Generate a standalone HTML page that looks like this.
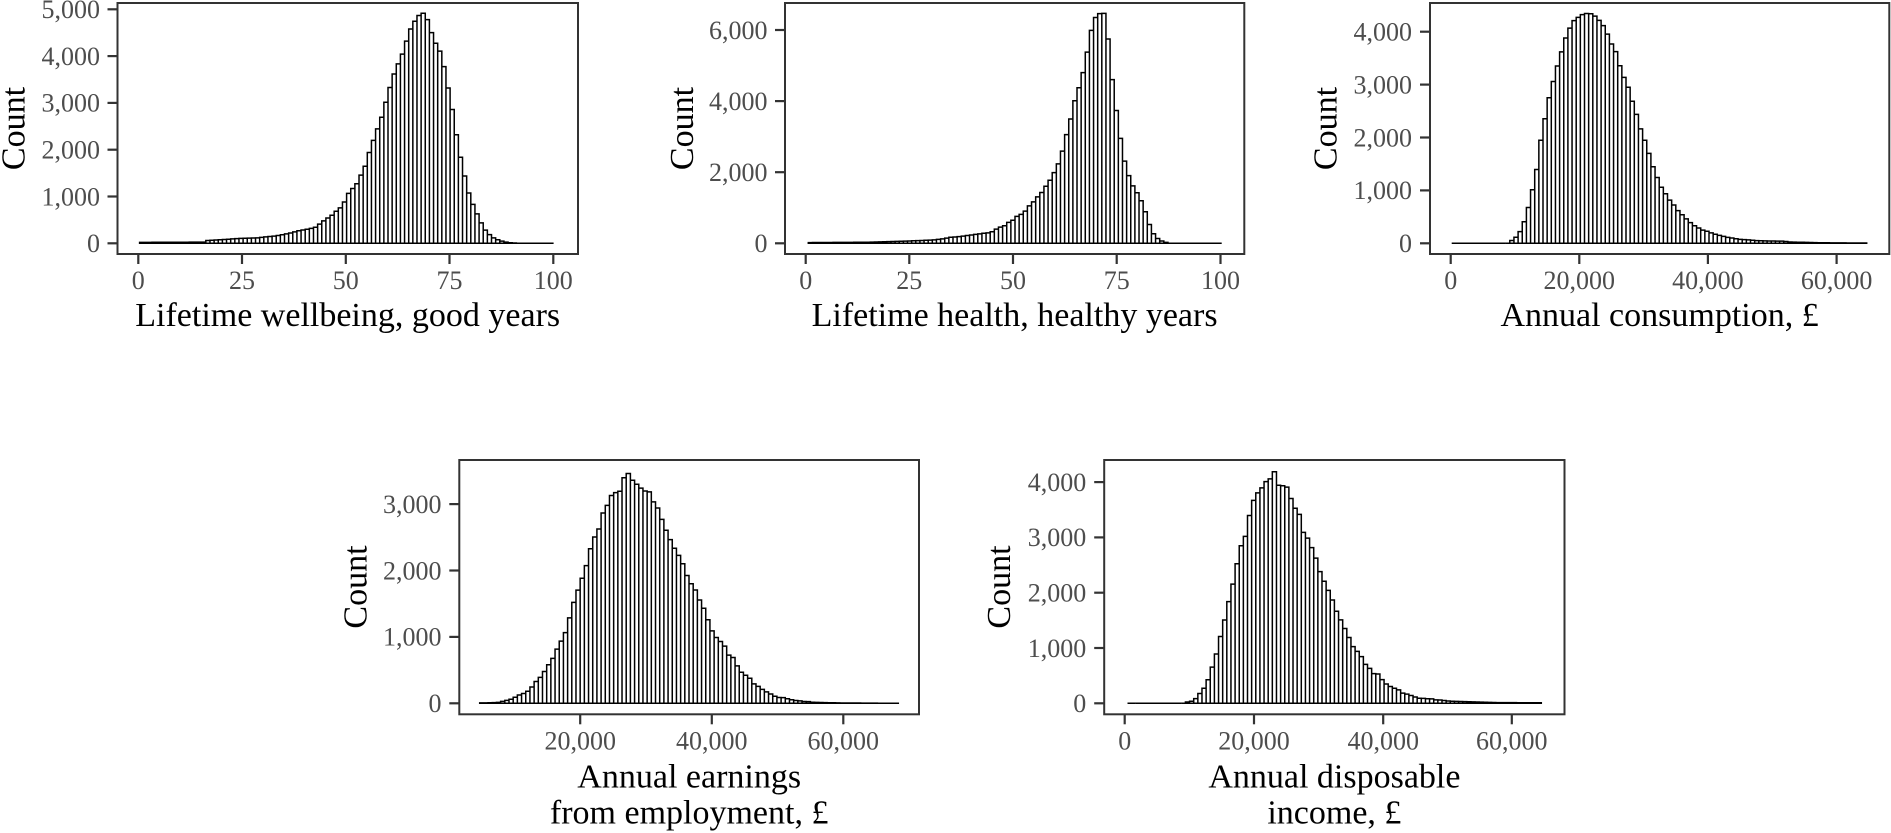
<!DOCTYPE html>
<html>
<head>
<meta charset="utf-8">
<style>
  html,body{margin:0;padding:0;background:#fff;}
  body{width:1891px;height:833px;overflow:hidden;}
  svg{display:block;}
  .tl{font-family:"Liberation Serif","Times New Roman",serif;font-size:26px;fill:#4d4d4d;}
  .at{font-family:"Liberation Serif","Times New Roman",serif;font-size:34px;fill:#000;}
  .fr{fill:none;stroke:#333;stroke-width:2;}
  .tk{stroke:#333;stroke-width:2.2;}
  .bars{fill:#fff;stroke:#000;stroke-width:1.5;stroke-linejoin:miter;}
</style>
</head>
<body>
<svg id="chart" width="1891" height="833" viewBox="0 0 1891 833" xmlns="http://www.w3.org/2000/svg">
  <rect x="0" y="0" width="1891" height="833" fill="#fff"/>

  <g id="b1"></g><g id="b2"></g><g id="b3"></g><g id="b4"></g><g id="b5"></g>

  <!-- ===== Panel 1 ===== -->
  <rect class="fr" x="117.5" y="3" width="460.5" height="251"/>
  <g class="tk">
    <line x1="107.5" y1="243.3" x2="117.5" y2="243.3"/>
    <line x1="107.5" y1="196.5" x2="117.5" y2="196.5"/>
    <line x1="107.5" y1="149.7" x2="117.5" y2="149.7"/>
    <line x1="107.5" y1="102.9" x2="117.5" y2="102.9"/>
    <line x1="107.5" y1="56.1" x2="117.5" y2="56.1"/>
    <line x1="107.5" y1="9.3" x2="117.5" y2="9.3"/>
    <line x1="138.3" y1="254" x2="138.3" y2="264"/>
    <line x1="242" y1="254" x2="242" y2="264"/>
    <line x1="345.8" y1="254" x2="345.8" y2="264"/>
    <line x1="449.5" y1="254" x2="449.5" y2="264"/>
    <line x1="553.3" y1="254" x2="553.3" y2="264"/>
  </g>
  <g class="tl" text-anchor="end">
    <text x="100" y="252.1">0</text>
    <text x="100" y="205.3">1,000</text>
    <text x="100" y="158.5">2,000</text>
    <text x="100" y="111.7">3,000</text>
    <text x="100" y="64.9">4,000</text>
    <text x="100" y="18.1">5,000</text>
  </g>
  <g class="tl" text-anchor="middle">
    <text x="138.3" y="289">0</text>
    <text x="242" y="289">25</text>
    <text x="345.8" y="289">50</text>
    <text x="449.5" y="289">75</text>
    <text x="553.3" y="289">100</text>
  </g>
  <text class="at" text-anchor="middle" x="347.7" y="326">Lifetime wellbeing, good years</text>
  <text class="at" text-anchor="middle" transform="translate(24.5,128.5) rotate(-90)">Count</text>

  <!-- ===== Panel 2 ===== -->
  <rect class="fr" x="785" y="3" width="459.3" height="251"/>
  <g class="tk">
    <line x1="775" y1="243.3" x2="785" y2="243.3"/>
    <line x1="775" y1="172.2" x2="785" y2="172.2"/>
    <line x1="775" y1="101.1" x2="785" y2="101.1"/>
    <line x1="775" y1="30" x2="785" y2="30"/>
    <line x1="805.7" y1="254" x2="805.7" y2="264"/>
    <line x1="909.3" y1="254" x2="909.3" y2="264"/>
    <line x1="1013" y1="254" x2="1013" y2="264"/>
    <line x1="1116.7" y1="254" x2="1116.7" y2="264"/>
    <line x1="1220.5" y1="254" x2="1220.5" y2="264"/>
  </g>
  <g class="tl" text-anchor="end">
    <text x="767.5" y="252.1">0</text>
    <text x="767.5" y="181">2,000</text>
    <text x="767.5" y="109.9">4,000</text>
    <text x="767.5" y="38.8">6,000</text>
  </g>
  <g class="tl" text-anchor="middle">
    <text x="805.7" y="289">0</text>
    <text x="909.3" y="289">25</text>
    <text x="1013" y="289">50</text>
    <text x="1116.7" y="289">75</text>
    <text x="1220.5" y="289">100</text>
  </g>
  <text class="at" text-anchor="middle" x="1014.6" y="326">Lifetime health, healthy years</text>
  <text class="at" text-anchor="middle" transform="translate(693,128.5) rotate(-90)">Count</text>

  <!-- ===== Panel 3 ===== -->
  <rect class="fr" x="1430" y="3" width="459.3" height="251"/>
  <g class="tk">
    <line x1="1420" y1="243.3" x2="1430" y2="243.3"/>
    <line x1="1420" y1="190.4" x2="1430" y2="190.4"/>
    <line x1="1420" y1="137.5" x2="1430" y2="137.5"/>
    <line x1="1420" y1="84.6" x2="1430" y2="84.6"/>
    <line x1="1420" y1="31.7" x2="1430" y2="31.7"/>
    <line x1="1450.7" y1="254" x2="1450.7" y2="264"/>
    <line x1="1579.3" y1="254" x2="1579.3" y2="264"/>
    <line x1="1707.9" y1="254" x2="1707.9" y2="264"/>
    <line x1="1836.6" y1="254" x2="1836.6" y2="264"/>
  </g>
  <g class="tl" text-anchor="end">
    <text x="1412" y="252.1">0</text>
    <text x="1412" y="199.2">1,000</text>
    <text x="1412" y="146.3">2,000</text>
    <text x="1412" y="93.4">3,000</text>
    <text x="1412" y="40.5">4,000</text>
  </g>
  <g class="tl" text-anchor="middle">
    <text x="1450.7" y="289">0</text>
    <text x="1579.3" y="289">20,000</text>
    <text x="1707.9" y="289">40,000</text>
    <text x="1836.6" y="289">60,000</text>
  </g>
  <text class="at" text-anchor="middle" x="1659.6" y="326">Annual consumption, £</text>
  <text class="at" text-anchor="middle" transform="translate(1336.5,128.5) rotate(-90)">Count</text>

  <!-- ===== Panel 4 ===== -->
  <rect class="fr" x="459.3" y="460" width="459.7" height="254.3"/>
  <g class="tk">
    <line x1="449.3" y1="703.3" x2="459.3" y2="703.3"/>
    <line x1="449.3" y1="636.9" x2="459.3" y2="636.9"/>
    <line x1="449.3" y1="570.5" x2="459.3" y2="570.5"/>
    <line x1="449.3" y1="504.1" x2="459.3" y2="504.1"/>
    <line x1="580.2" y1="714.3" x2="580.2" y2="724.3"/>
    <line x1="711.8" y1="714.3" x2="711.8" y2="724.3"/>
    <line x1="843.3" y1="714.3" x2="843.3" y2="724.3"/>
  </g>
  <g class="tl" text-anchor="end">
    <text x="441.5" y="712.1">0</text>
    <text x="441.5" y="645.7">1,000</text>
    <text x="441.5" y="579.3">2,000</text>
    <text x="441.5" y="512.9">3,000</text>
  </g>
  <g class="tl" text-anchor="middle">
    <text x="580.2" y="749.5">20,000</text>
    <text x="711.8" y="749.5">40,000</text>
    <text x="843.3" y="749.5">60,000</text>
  </g>
  <text class="at" text-anchor="middle" x="689.2" y="787.5">Annual earnings</text>
  <text class="at" text-anchor="middle" x="689.2" y="823.5">from employment, £</text>
  <text class="at" text-anchor="middle" transform="translate(366.5,587) rotate(-90)">Count</text>

  <!-- ===== Panel 5 ===== -->
  <rect class="fr" x="1104.2" y="460" width="460.3" height="254.3"/>
  <g class="tk">
    <line x1="1094.2" y1="703.3" x2="1104.2" y2="703.3"/>
    <line x1="1094.2" y1="648" x2="1104.2" y2="648"/>
    <line x1="1094.2" y1="592.7" x2="1104.2" y2="592.7"/>
    <line x1="1094.2" y1="537.4" x2="1104.2" y2="537.4"/>
    <line x1="1094.2" y1="482.1" x2="1104.2" y2="482.1"/>
    <line x1="1124.7" y1="714.3" x2="1124.7" y2="724.3"/>
    <line x1="1254" y1="714.3" x2="1254" y2="724.3"/>
    <line x1="1383.2" y1="714.3" x2="1383.2" y2="724.3"/>
    <line x1="1511.8" y1="714.3" x2="1511.8" y2="724.3"/>
  </g>
  <g class="tl" text-anchor="end">
    <text x="1086.2" y="712.1">0</text>
    <text x="1086.2" y="656.8">1,000</text>
    <text x="1086.2" y="601.5">2,000</text>
    <text x="1086.2" y="546.2">3,000</text>
    <text x="1086.2" y="490.9">4,000</text>
  </g>
  <g class="tl" text-anchor="middle">
    <text x="1124.7" y="749.5">0</text>
    <text x="1254" y="749.5">20,000</text>
    <text x="1383.2" y="749.5">40,000</text>
    <text x="1511.8" y="749.5">60,000</text>
  </g>
  <text class="at" text-anchor="middle" x="1334.4" y="787.5">Annual disposable</text>
  <text class="at" text-anchor="middle" x="1334.4" y="823.5">income, £</text>
  <text class="at" text-anchor="middle" transform="translate(1010,587) rotate(-90)">Count</text>
</svg>

<script>
(function(){
  var NS="http://www.w3.org/2000/svg";
  function interp(p,x){
    if(x<=p[0][0]) return p[0][1];
    for(var i=1;i<p.length;i++){
      if(x<=p[i][0]){
        var a=p[i-1],b=p[i];
        var t=(x-a[0])/(b[0]-a[0]);
        return a[1]+t*(b[1]-a[1]);
      }
    }
    return p[p.length-1][1];
  }
  function draw(id,start,end,n,y0,per1000,pts){
    var w=(end-start)/n, d="";
    for(var k=0;k<n;k++){
      var xl=start+k*w, xc=xl+w/2;
      var c=Math.max(0,interp(pts,xc));
      var h=c*per1000/1000;
      var yt=(y0-h).toFixed(2);
      d+="M"+xl.toFixed(2)+","+y0+"V"+yt+"H"+(xl+w).toFixed(2)+"V"+y0+"Z";
    }
    var p=document.createElementNS(NS,"path");
    p.setAttribute("d",d);
    p.setAttribute("class","bars");
    document.getElementById(id).appendChild(p);
  }

  var p1=[[140,20],[205,25],[208,60],[227,85],[242,107],[258,115],[267,140],[277,160],[290,215],[298,265],[307,300],[315,335],[320,415],[325,500],
  [332.5,605],[337,700],[341.2,770],[345.3,910],[349.5,1105],[353.7,1190],[357.8,1295],[362.2,1510],[366.3,1695],[370.5,2030],[374.7,2265],[378.8,2515],[383,2765],[387.2,3120],[391.3,3420],[395.5,3705],[399.7,3895],[403.8,4110],[408.2,4435],[412.3,4665],[416.5,4795],[420.7,4915],[425.2,4915],[429.7,4630],[433.8,4330],[438,4200],[442.2,3975],[446.3,3490],[450.5,3075],[454.7,2530],[458.8,1995],[463,1600],[467.2,1175],[471.3,910],[475.5,700],[479.7,500],[483.8,320],[488,215],[492.2,130],[496.3,85],[500.5,55],[504.7,30],[508.3,15],[515,5],[520,0]];

  var p2=[[808,20],[870,30],[900,55],[934,94],[942,122],[951,169],[959,188],[967,216],[976,253],[984,281],[991,300],[996,394],[999.7,450],[1003.7,469],[1008,581],[1012,620],[1016.3,750],[1020.3,797],[1024.7,881],[1028.7,1031],[1033,1144],[1037,1284],[1041.3,1406],[1045.7,1594],[1050.3,1781],[1054.3,1988],[1058.7,2250],[1062.7,2606],[1067,3094],[1071,3516],[1075.7,4106],[1080.3,4472],[1084.3,4922],[1088.7,5578],[1092.7,6169],[1097,6441],[1101,6469],[1105.7,6469],[1110.3,5034],[1114.3,4106],[1118.7,3281],[1122.7,2513],[1127,2044],[1131.3,1688],[1135.3,1500],[1139.3,1313],[1143.7,1031],[1147.7,656],[1152,328],[1156,169],[1160.7,75],[1165.3,28],[1170,0]];

  var p3=[[1451,0],[1510,0],[1511.7,50],[1515,95],[1519,170],[1522.3,315],[1525.7,470],[1530,790],[1533.3,1070],[1536.7,1385],[1540,1860],[1543.3,2175],[1548.3,2680],[1552.3,2990],[1555.7,3210],[1559,3465],[1562.3,3655],[1565.7,3875],[1569,4030],[1572.3,4160],[1575.7,4250],[1580,4285],[1583.3,4335],[1586.7,4345],[1590,4345],[1593.3,4315],[1596.7,4270],[1600,4190],[1604,4095],[1607.3,3955],[1610.7,3790],[1615,3665],[1619,3400],[1622.3,3210],[1625.7,3055],[1629,2910],[1632.3,2680],[1635.7,2490],[1639,2235],[1642.3,2080],[1645.7,1890],[1649,1690],[1652.3,1480],[1655.7,1320],[1659,1145],[1662.3,1020],[1665.7,930],[1669,830],[1672.3,755],[1675.7,680],[1679,585],[1682.3,535],[1685.7,470],[1689,410],[1692.3,360],[1695.7,315],[1699,285],[1702.3,250],[1705.7,240],[1709,210],[1712.3,190],[1716.7,160],[1721.7,140],[1726.7,115],[1733.3,95],[1740,75],[1748.3,65],[1756.7,50],[1766.7,45],[1783.3,40],[1790,25],[1800,20],[1816.7,12],[1833.3,8],[1866.7,5]];

  var p4=[[479.7,5],[495,10],[499,15],[504,35],[509,50],[514,75],[517.3,115],[521.3,135],[525.7,160],[529.7,200],[534,285],[538,365],[542.3,410],[546.3,530],[550.7,620],[554.7,720],[559,890],[563,970],[567.3,1130],[571.3,1390],[575.7,1610],[579.7,1770],[584,1960],[588,2145],[592.3,2445],[596.3,2540],[600.7,2680],[604.7,2980],[609,2980],[613,3215],[617.3,3150],[621.3,3215],[625.7,3500],[629.7,3440],[634,3315],[638,3290],[642.3,3215],[646.3,3190],[650.7,3180],[654.7,2965],[659,2930],[663,2700],[667.3,2565],[671.3,2425],[675.7,2295],[679.7,2200],[684,2060],[688,1875],[692.3,1770],[696.3,1685],[700.7,1505],[704.7,1405],[709,1205],[713,1055],[717.3,970],[721.3,920],[725.7,840],[729.7,690],[734,690],[738,530],[742.3,450],[746.3,415],[750.7,365],[754.7,275],[759,250],[763,200],[767.3,165],[771.3,135],[775.7,100],[779.7,85],[784,85],[788,65],[792.3,50],[796.3,40],[800.7,35],[804.7,25],[809,25],[813,15],[825.7,10],[842.3,5],[898.3,0]];

  var p5=[[1127,0],[1184,0],[1186,20],[1190.7,30],[1194.7,60],[1199,160],[1203,240],[1207.3,375],[1211.3,600],[1215.7,830],[1219.7,1145],[1224,1445],[1228,1775],[1232.3,2090],[1236.3,2450],[1240.7,2830],[1244.7,2950],[1249,3355],[1253,3645],[1257.3,3795],[1261.3,3875],[1265.7,4005],[1269.7,4035],[1274,4215],[1278,3945],[1282.3,3935],[1286.3,3935],[1290.7,3715],[1294.7,3535],[1299,3435],[1303,3100],[1307.3,2995],[1311.3,2830],[1315.7,2630],[1319.7,2390],[1324,2210],[1328,2050],[1332.3,1870],[1336.3,1670],[1340.7,1505],[1344.7,1355],[1349,1185],[1353,1025],[1357.3,935],[1361.3,845],[1365.7,695],[1369.7,630],[1374,530],[1378,530],[1382.3,420],[1386.3,345],[1390.7,300],[1394.7,270],[1399,240],[1403,180],[1407.3,165],[1411.3,140],[1415.7,110],[1419.7,90],[1424,90],[1428,80],[1432.3,80],[1436.3,60],[1440.7,60],[1444.7,50],[1449,40],[1458,35],[1475,25],[1500,12],[1540.7,10]];

  draw("b1",139.6,553.6,100,243.3,46.8,p1);
  draw("b2",808.3,1221.7,100,243.3,35.55,p2);
  draw("b3",1451.7,1866.7,100,243.3,52.9,p3);
  draw("b4",479.7,898.3,100,703.3,66.4,p4);
  draw("b5",1127.5,1541.3,100,703.3,55.3,p5);
})();
</script>
</body>
</html>
